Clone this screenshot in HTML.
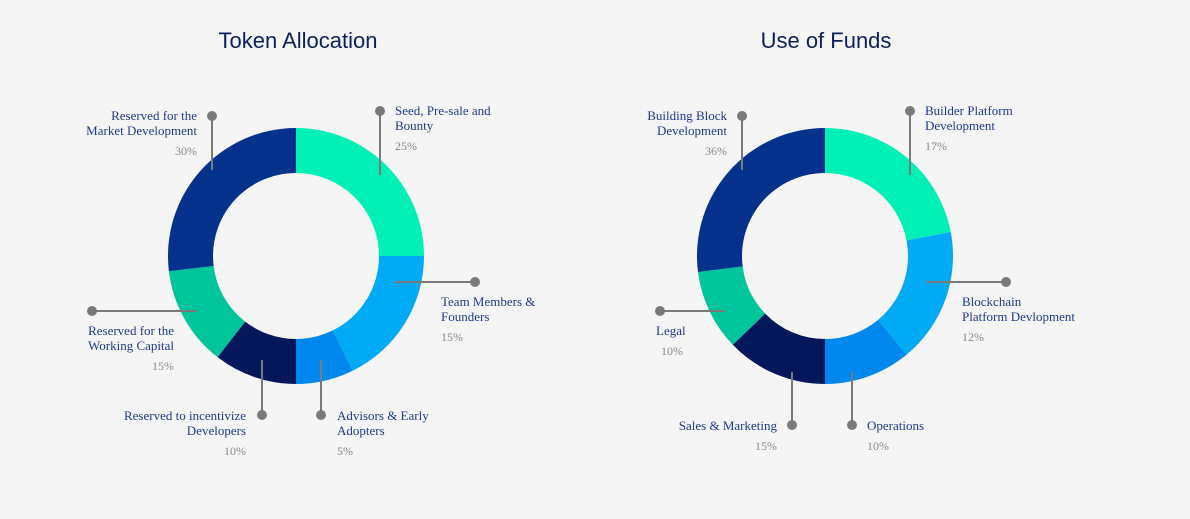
<!DOCTYPE html>
<html><head><meta charset="utf-8"><style>
html,body{margin:0;padding:0;background:#f5f5f5;}
svg{display:block;}
.lbl{font-family:"Liberation Serif",serif;font-size:13px;fill:#1d3a8f;}
.pct{font-family:"Liberation Serif",serif;font-size:12px;fill:#8a8a8a;}
.ttl{font-family:"Liberation Sans",sans-serif;font-size:22px;fill:#0b1f5e;}
</style></head><body>
<svg id="chart" width="1190" height="519" xmlns="http://www.w3.org/2000/svg">
<text class="ttl" x="298" y="48" text-anchor="middle">Token Allocation</text>
<text class="ttl" x="826" y="48" text-anchor="middle">Use of Funds</text>
</svg>
<script>
const tokenLabels = [["Seed, Pre-sale and","Bounty"],["Team Members &","Founders"],["Advisors & Early","Adopters"],["Reserved to incentivize","Developers"],["Reserved for the","Working Capital"],["Reserved for the","Market Development"]];
const tokenValues = [25,15,5,10,15,30];
// share of the ring each slice visually occupies in the source graphic
const tokenArcShare = [25,17.7,7.3,10.5,12.6,26.9];
const fundsLabels = [["Builder Platform","Development"],["Blockchain","Platform Devlopment"],["Operations"],["Sales & Marketing"],["Legal"],["Building Block","Development"]];
const fundsValues = [17,12,10,15,10,36];
const fundsArcShare = [22,17,11,12.8,10.2,27];

const colors = ["#00f0b5","#00aaf5","#0088ee","#03175a","#00c49a","#03318c"];
const svg = document.getElementById('chart');
const NS = "http://www.w3.org/2000/svg";
function mk(tag, attrs){const e=document.createElementNS(NS,tag);for(const k in attrs)e.setAttribute(k,attrs[k]);svg.appendChild(e);return e;}
function pt(cx,cy,r,a){return [cx+r*Math.sin(a),cy-r*Math.cos(a)];}
function donut(cx,cy,values,prefix){
  const tot=values.reduce((a,b)=>a+b,0);let a0=0;const R=128,r=83;
  values.forEach((v,i)=>{
    const a1=a0+v/tot*2*Math.PI;const lg=(a1-a0)>Math.PI?1:0;
    const p1=pt(cx,cy,R,a0),p2=pt(cx,cy,R,a1),p3=pt(cx,cy,r,a1),p4=pt(cx,cy,r,a0);
    const p=mk('path',{d:`M${p1}A${R},${R} 0 ${lg} 1 ${p2}L${p3}A${r},${r} 0 ${lg} 0 ${p4}Z`,fill:colors[i]});
    
    
    a0=a1;
  });
}
const tokenLayout=[[380,175,380,111,395,115,"start"],[395,282,475,282,441,306,"start"],[321,360,321,415,337,420,"start"],[262,360,262,415,246,420,"end"],[197,311,92,311,174,335,"end"],[212,170,212,116,197,120,"end"]];
const fundsLayout=[[910,175,910,111,925,115,"start"],[926,282,1006,282,962,306,"start"],[852,372,852,425,867,430,"start"],[792,372,792,425,777,430,"end"],[725,311,660,311,656,335,"start"],[742,170,742,116,727,120,"end"]];
function callouts(labels,values,layout,prefix){
  labels.forEach((lines,i)=>{
    const L=layout[i];
    const ln=mk('line',{x1:L[0],y1:L[1],x2:L[2],y2:L[3],stroke:"#7a7a7a","stroke-width":2});
    
    
    const c=mk('circle',{cx:L[2],cy:L[3],r:5,fill:"#7a7a7a"});
    
    
    lines.forEach((t,j)=>{
      const tx=mk('text',{x:L[4],y:L[5]+j*15,"text-anchor":L[6],class:"lbl"});tx.textContent=t;
      
      
    });
    const px = (prefix==='funds' && i===4) ? L[4]+5 : L[4];
    const pc=mk('text',{x:px,y:L[5]+lines.length*15+5,"text-anchor":L[6],class:"pct"});pc.textContent=values[i]+"%";
    
    
  });
}
donut(296,256,tokenArcShare,'token');
donut(825,256,fundsArcShare,'funds');
callouts(tokenLabels,tokenValues,tokenLayout,'token');
callouts(fundsLabels,fundsValues,fundsLayout,'funds');
</script>
</body></html>
